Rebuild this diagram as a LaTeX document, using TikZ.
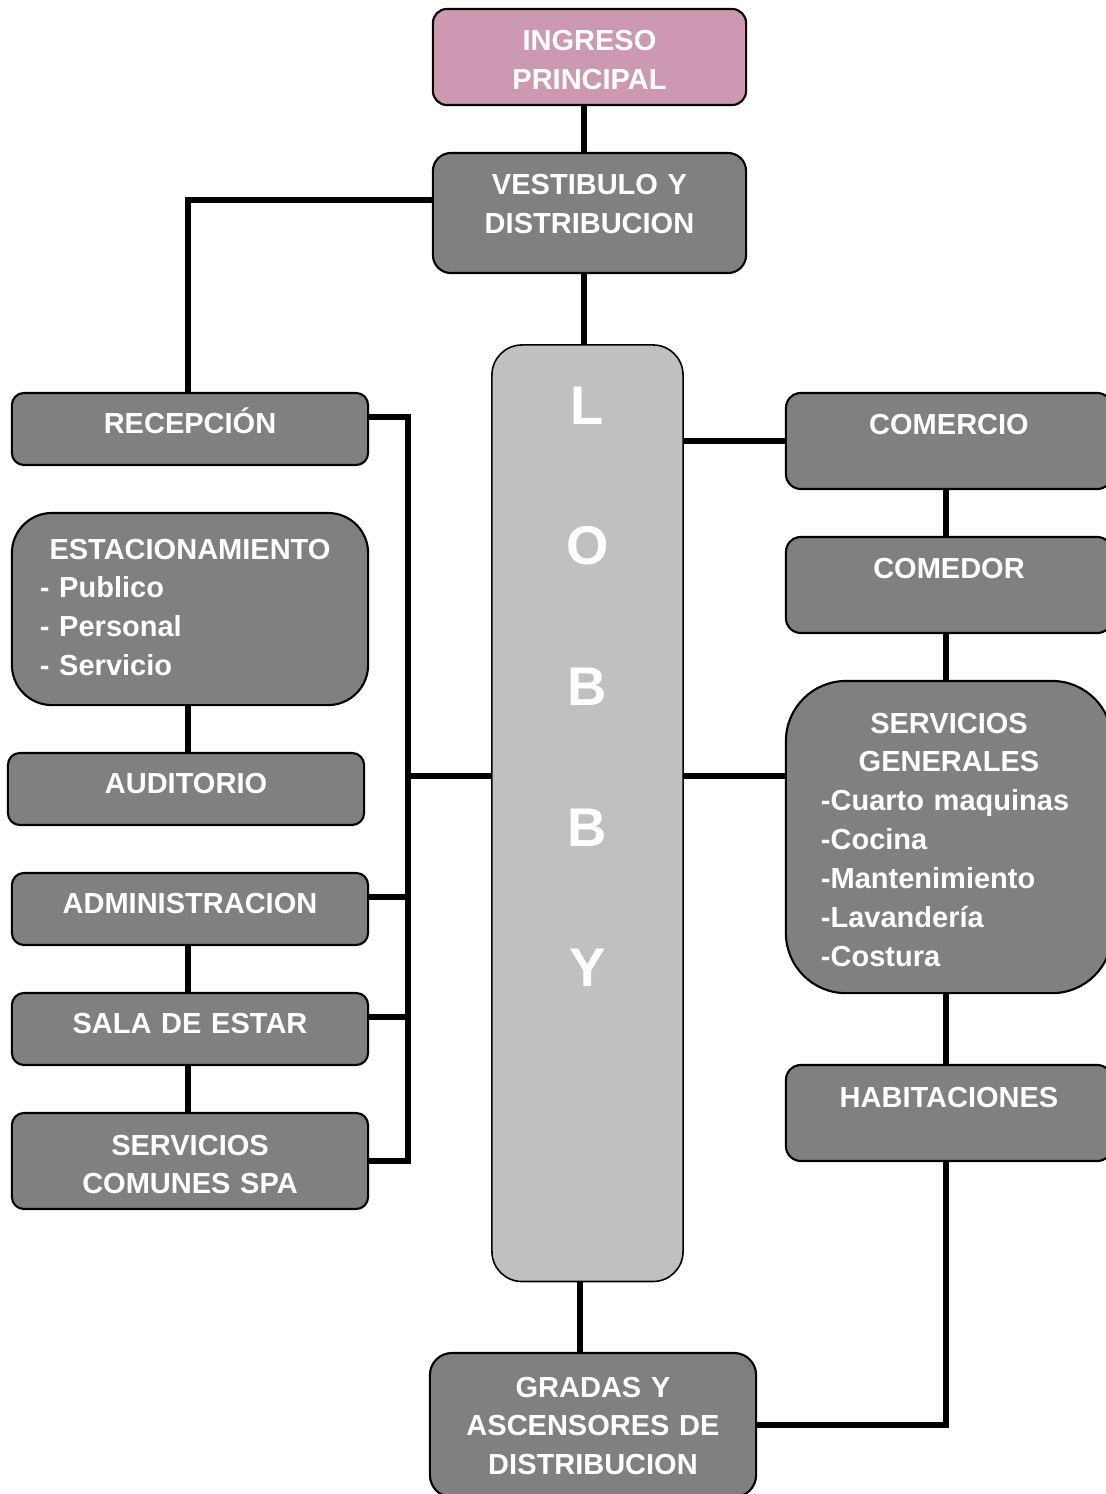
\documentclass[tikz,border=0pt]{standalone}
\usepackage{fontspec}
\setmainfont{Liberation Sans}
\usetikzlibrary{calc}
\definecolor{gris}{RGB}{128,128,128}
\definecolor{grisclaro}{RGB}{192,192,192}
\definecolor{rosa}{RGB}{204,152,178}

\begin{document}
\begin{tikzpicture}[x=0.01cm,y=-0.01cm,
  caja/.style={draw=black,line width=0.6pt,fill=gris,text=white,rounded corners=0.12cm,
    inner sep=0pt,align=center,anchor=base,
    font=\bfseries\fontsize{8.25}{11.07}\selectfont},
  linea/.style={line width=1.45pt}]
\useasboundingbox (0,0) rectangle (1105,1494);

% columna central
\node (ingreso) [caja,fill=rosa,rounded corners=0.14cm,text width=3.13cm,text height=0.42cm,text depth=0.54cm] at (589.5,51) {INGRESO\\PRINCIPAL};
\node (vestibulo) [caja,rounded corners=0.18cm,text width=3.13cm,text height=0.42cm,text depth=0.78cm] at (589.5,195) {VESTIBULO Y\\DISTRIBUCION};
\node (lobby) [caja,fill=grisclaro,line width=0.45pt,rounded corners=0.3cm,text width=1.91cm,text height=0.79cm,text depth=8.57cm,
  font=\bfseries\fontsize{15.5}{40}\selectfont] at (587.5,424) {L\\O\\B\\B\\Y};
\node (gradas) [caja,rounded corners=0.22cm,text width=3.26cm,text height=0.44cm,text depth=1.0cm] at (593,1397) {GRADAS Y\\ASCENSORES DE\\DISTRIBUCION};

% lado izquierdo
\node (recepcion) [caja,text width=3.56cm,text height=0.4cm,text depth=0.32cm] at (190,433) {RECEPCIÓN};
\node (estac) [caja,align=left,rounded corners=0.4cm,text width=3cm,minimum width=3.56cm,text height=0.46cm,text depth=1.46cm] at (190,559)
  {\makebox[\linewidth]{ESTACIONAMIENTO}\\- Publico\\- Personal\\- Servicio};
\node (auditorio) [caja,text width=3.56cm,text height=0.4cm,text depth=0.32cm] at (186,793) {AUDITORIO};
\node (admin) [caja,text width=3.56cm,text height=0.4cm,text depth=0.32cm] at (190,913) {ADMINISTRACION};
\node (sala) [caja,text width=3.56cm,text height=0.4cm,text depth=0.32cm] at (190,1033) {SALA DE ESTAR};
\node (spa) [caja,text width=3.56cm,text height=0.42cm,text depth=0.54cm] at (190,1155) {SERVICIOS\\COMUNES SPA};

% lado derecho
\node (comercio) [caja,rounded corners=0.15cm,text width=3.26cm,text height=0.41cm,text depth=0.55cm] at (949,434) {COMERCIO};
\node (comedor) [caja,rounded corners=0.15cm,text width=3.26cm,text height=0.41cm,text depth=0.55cm] at (949,578) {COMEDOR};
\node (servgen) [caja,align=left,rounded corners=0.6cm,text width=2.56cm,minimum width=3.26cm,text height=0.52cm,text depth=2.6cm] at (949,733)
  {\makebox[\linewidth]{SERVICIOS}\\\makebox[\linewidth]{GENERALES}\\-Cuarto maquinas\\-Cocina\\-Mantenimiento\\-Lavandería\\-Costura};
\node (habitaciones) [caja,rounded corners=0.15cm,text width=3.26cm,text height=0.42cm,text depth=0.54cm] at (949,1107) {HABITACIONES};

% ejes de las lineas
\coordinate (centro) at (584,0);
\coordinate (centrob) at (580,0);
\coordinate (izq) at (188,0);
\coordinate (der) at (946,0);
\coordinate (bus) at (408,0);
\coordinate (eje) at (0,776);

\draw[linea] (centro |- ingreso.south) -- (centro |- vestibulo.north);
\draw[linea] (centro |- vestibulo.south) -- (centro |- lobby.north);
\draw[linea] ([yshift=0.13cm]vestibulo.west) -| (izq |- recepcion.north);
\draw[linea] ([yshift=0.12cm]recepcion.east) -| (bus |- spa.east) -- (spa.east);
\draw[linea] ([yshift=0.12cm]admin.east) coordinate (a1) -- (a1 -| bus);
\draw[linea] ([yshift=0.12cm]sala.east) coordinate (a2) -- (a2 -| bus);
\draw[linea] (bus |- eje) -- (lobby.west |- eje);
\draw[linea] (izq |- estac.south) -- (izq |- auditorio.north);
\draw[linea] (izq |- admin.south) -- (izq |- sala.north);
\draw[linea] (izq |- sala.south) -- (izq |- spa.north);
\draw[linea] (lobby.east |- comercio.west) -- (comercio.west);
\draw[linea] (lobby.east |- eje) -- (servgen.west |- eje);
\draw[linea] (der |- comercio.south) -- (der |- comedor.north);
\draw[linea] (der |- comedor.south) -- (der |- servgen.north);
\draw[linea] (der |- servgen.south) -- (der |- habitaciones.north);
\draw[linea] (der |- habitaciones.south) |- (gradas.east);
\draw[linea] (centrob |- lobby.south) -- (centrob |- gradas.north);
\end{tikzpicture}
\end{document}
